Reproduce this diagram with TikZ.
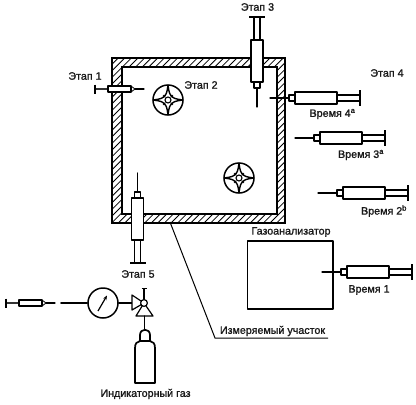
\documentclass[tikz,border=0pt]{standalone}
\usepackage{fontspec}
\setmainfont{Liberation Sans}
\newfontfamily\labfont[FakeBold=1.3]{Liberation Sans}
\usetikzlibrary{arrows.meta}
\tikzset{
  x=1pt,y=-1pt,
  lab/.style={font=\labfont\fontsize{10.7}{12}\selectfont,inner sep=0pt,text=black!90},
  hv/.style={line width=1.7pt,line cap=round,line join=round},
  md/.style={line width=1.2pt,line cap=round,line join=round},
  pics/syr/.style={code={
    \draw[md] (0,0) -- (19,0);
    \draw[md,fill=white] (19,-3) rectangle (25,3);
    \draw[line width=1.1pt] (67,-3) -- (90,-3) (67,3) -- (90,3);
    \draw[hv,fill=white] (25,-6) rectangle (67,6);
    \draw[line width=1.9pt] (90,-8) -- (90,8);
  }},
  pics/smallsyr/.style={code={
    % plate at (0,0), tip at (49,0)
    \draw[md] (40,0) -- (49,0);
    \draw[line width=.8pt,fill=white] (40,0) -- (36,-3) -- (36,3) -- cycle;
    \draw[line width=1.8pt,black!80] (0,0) -- (13,0);
    \draw[md,fill=white] (13,-3) rectangle (36,3);
    \draw[line width=1.8pt] (0,-4.5) -- (0,4.5);
  }},
  pics/fan/.style={code={
    \draw[line width=1.5pt] (0,0) circle (15);
    \foreach \a in {0,90,180,270}{
      \begin{scope}[rotate=\a]
        \draw[line width=1.4pt] (0,-15) .. controls (1,-7) and (2,-5) .. (3.5,-3.5)
          .. controls (5,-2) and (7,-1) .. (15,0);
        \fill (4,-4) circle (1.3);
      \end{scope}
    }
    \draw[line width=1.1pt,fill=white] (0,0) circle (3);
  }}
}
\begin{document}
\begin{tikzpicture}
\useasboundingbox (0,0) rectangle (416,405);
% room wall with hatching
\begin{scope}
  \clip (112,58) rectangle (285,223);
  \foreach \k in {0,6.6,...,350}{
    \draw[line width=.8pt] (\k-60,223) -- +(175,-175);
  }
\end{scope}
\draw[line width=1.8pt,fill=white] (122,67) rectangle (277,214);
\draw[line width=1.8pt] (112,58) rectangle (285,223);
% fans
\pic at (168,100) {fan};
\pic at (239,178) {fan};
% syringes
\pic[rotate=90] at (257,107) {syr};
\pic[rotate=-90] at (137.5,173) {syr};
\pic at (270,98) {syr};
\pic at (295,138) {syr};
\pic at (318,193) {syr};
\pic at (95,89) {smallsyr};
\pic at (6,303) {smallsyr};
% analyser
\draw[hv] (247.5,241) rectangle (333,309);
\pic at (322,272) {syr};
% gauge, valve and cylinder
\node[circle,draw,line width=1.5pt,minimum size=30pt,inner sep=0pt] (gauge) at (103,303) {};
\coordinate (feed) at (61,303);
\draw[hv] (feed) -- (gauge);
\coordinate (vc) at (144,303);
\draw[hv] (gauge) -- (132,303);
\draw[md,fill=white] (132,295) -- (vc) -- (132,310) -- cycle;
\draw[md,fill=white] (vc) -- (153,316) -- (136,316) -- cycle;
\draw[md] (vc) -- (144,289);
\draw[line width=1.6pt] (141.5,288.5) -- (146.5,288.5);
\draw[md,fill=white] (vc) circle (3.4);
\draw[md] (144.5,316) -- (144.5,330);
\draw[line width=1.2pt,-{Stealth[length=4.5pt,width=3.5pt]}] (98,311) -- (107,295.5);
\draw[hv] (135,383) -- (135,348) .. controls (135,343) and (137,342) .. (140,341) -- (150,341) .. controls (153,342) and (155,343) .. (155,348) -- (155,383) -- cycle;
\draw[hv] (140,341) -- (140,335) .. controls (140,328) and (150,328) .. (150,335) -- (150,341);
% leader
\coordinate (lead0) at (170,222);
\coordinate (lead1) at (215,338);
\coordinate (lead2) at (328,338);
\draw[line width=1pt] (lead0) -- (lead1) -- (lead2);
% labels
\node[lab] (s1) at (85,76) {Этап 1};
\node[lab] (s2) at (201,85) {Этап 2};
\node[lab] (s3) at (257.5,7) {Этап 3};
\node[lab] (s4) at (387,73) {Этап 4};
\node[lab] (s5) at (138,274) {Этап 5};
\node[lab] (t4) at (332.5,114) {Время 4\textsuperscript{a}};
\node[lab] (t3) at (361,155) {Время 3\textsuperscript{a}};
\node[lab] (t2) at (384,211) {Время 2\textsuperscript{b}};
\node[lab] (t1) at (369,290) {Время 1};
\node[lab] (ga) at (291,232) {Газоанализатор};
\node[lab] (me) at (272.5,331) {Измеряемый участок};
\node[lab] (ig) at (145.5,394) {Индикаторный газ};
\end{tikzpicture}
\end{document}
